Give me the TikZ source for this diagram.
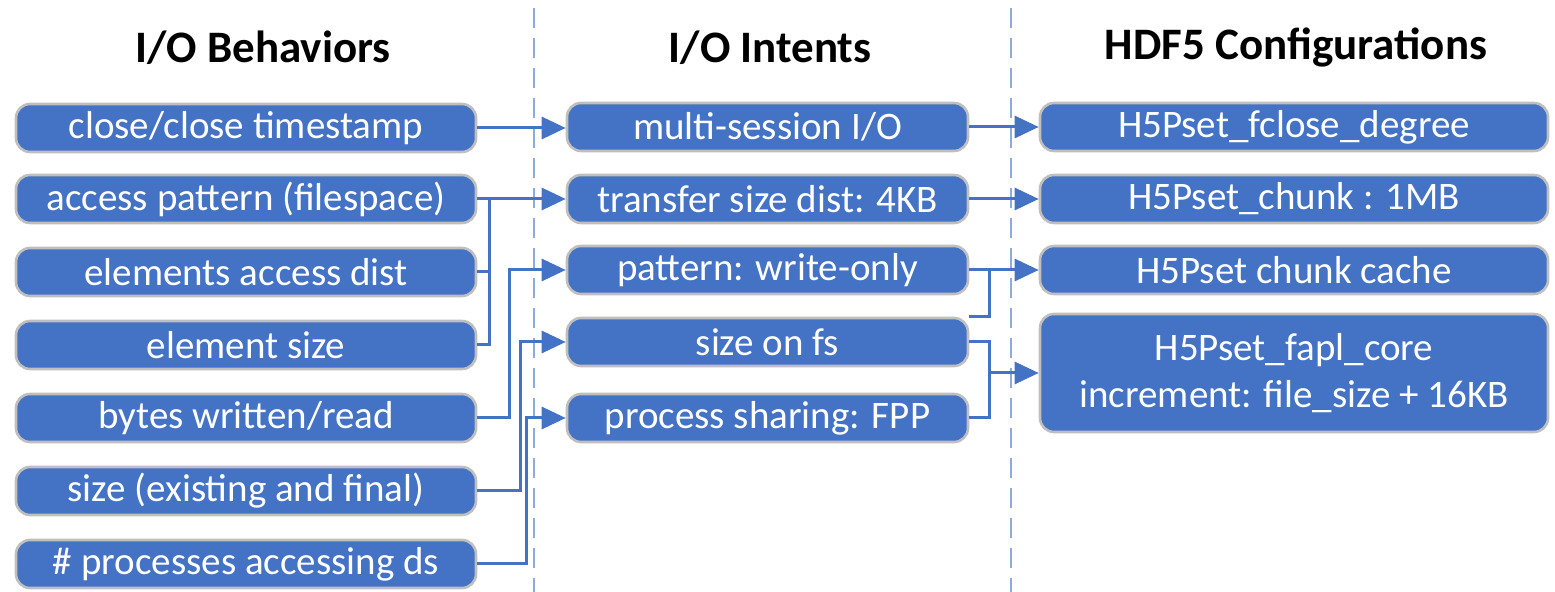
\documentclass[tikz,border=0pt]{standalone}
\usepackage{fontspec}
\setmainfont{Carlito}
\usetikzlibrary{arrows.meta}
\definecolor{boxblue}{HTML}{4472C4}
\definecolor{boxedge}{HTML}{BFBFBF}
\definecolor{dashblue}{HTML}{8FAADC}
\tikzset{
  box/.style={draw=boxedge, line width=1.3pt, fill=boxblue, rounded corners=7pt, text=white,
    minimum height=24pt, inner sep=0pt, font=\fontsize{19.5}{23.5}\selectfont, align=center},
  colA/.style={box, minimum width=230pt},
  colB/.style={box, minimum width=200.5pt},
  colC/.style={box, minimum width=254pt},
  conn/.style={draw=boxblue, line width=1.5pt},
  arr/.style={conn, -{Triangle[length=12pt,width=11pt]}},
  head/.style={font=\fontsize{22.5}{27}\selectfont\bfseries, text=black},
  sep/.style={draw=dashblue, line width=1pt, dash pattern=on 10pt off 5pt}
}
\begin{document}
\begin{tikzpicture}[x=0.5pt,y=-0.5pt]
\useasboundingbox (0,0) rectangle (1555,592);
% separators
\coordinate (s1t) at (534,8); \coordinate (s1b) at (534,592);
\coordinate (s2t) at (1011,8); \coordinate (s2b) at (1011,592);
\draw[sep] (s1t) -- (s1b);
\draw[sep] (s2t) -- (s2b);
% headings
\node[head] (h1) at (263,48) {I/O Behaviors};
\node[head] (h2) at (770,48) {I/O Intents};
\node[head] (h3) at (1296,48) {HDF5 Configurations};
% column A
\node[colA] (b1) at (246,128) {close/close timestamp};
\node[colA] (b2) at (246,199) {access pattern (filespace)};
\node[colA] (b3) at (246,272) {elements access dist};
\node[colA] (b4) at (246,345) {element size};
\node[colA] (b5) at (246,418) {bytes written/read};
\node[colA] (b6) at (246,491) {size (existing and final)};
\node[colA] (b7) at (246,564) {\# processes accessing ds};
% column B
\node[colB] (i1) at (767.5,127) {multi-session I/O};
\node[colB] (i2) at (767.5,199) {transfer size dist: 4KB};
\node[colB] (i3) at (767.5,270) {pattern: write-only};
\node[colB] (i4) at (767.5,342) {size on fs};
\node[colB] (i5) at (767.5,418) {process sharing: FPP};
% column C
\node[colC] (c1) at (1294,127) {H5Pset\_fclose\_degree};
\node[colC] (c2) at (1294,199) {H5Pset\_chunk : 1MB};
\node[colC] (c3) at (1294,270) {H5Pset chunk cache};
\node[colC, minimum height=59pt] (c4) at (1294,373) {H5Pset\_fapl\_core\\increment: file\_size + 16KB};
% trunk coordinates
\coordinate (t1) at (489,0);
\coordinate (t2) at (509,0);
\coordinate (t3) at (520,0);
\coordinate (t4) at (526,0);
\coordinate (t5) at (989,0);
% connectors A -> B
\draw[arr] (b1.east) -- (b1.east -| i1.west);
\draw[arr] (b2.east) -- (b2.east -| i2.west);
\draw[conn] (b3.east) -- (b3.east -| t1);
\draw[conn] (b4.east) -| (t1 |- b2.east);
\draw[arr] (b5.east) -| (t2 |- i3.west) -- (i3.west);
\draw[arr] (b6.east) -| (t3 |- i4.west) -- (i4.west);
\draw[arr] (b7.east) -| (t4 |- i5.west) -- (i5.west);
% connectors B -> C
\draw[arr] (i1.east) -- (i1.east -| c1.west);
\draw[arr] (i2.east) -- (i2.east -| c2.west);
\draw[arr] (i3.east) -- (i3.east -| c3.west);
\draw[conn] (i4.north east) -| (t5 |- i3.east);
\draw[conn] (i4.east) -| (t5 |- i5.east) -- (i5.east);
\draw[arr] (t5 |- c4.west) -- (c4.west);
\end{tikzpicture}
\end{document}
